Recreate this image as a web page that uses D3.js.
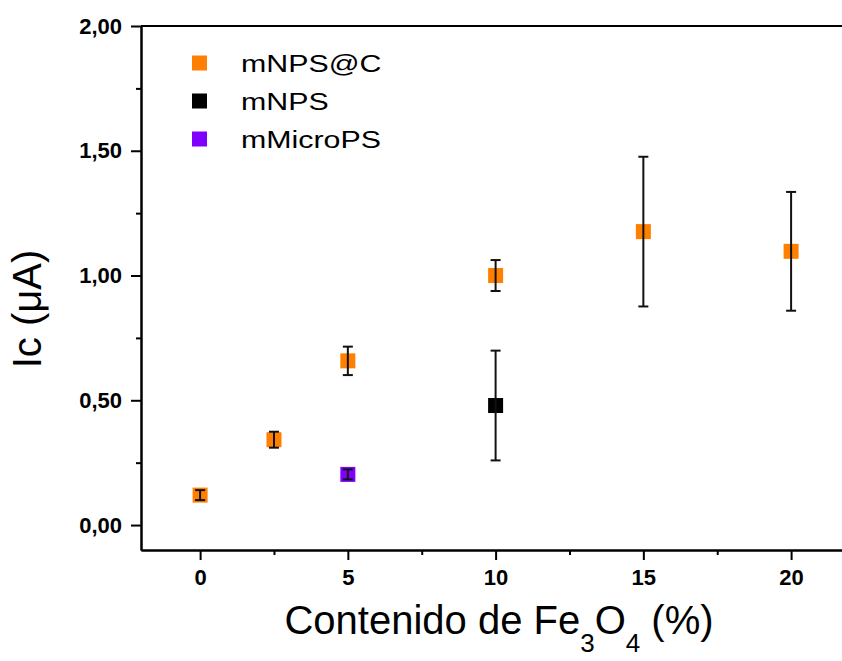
<!DOCTYPE html>
<html>
<head>
<meta charset="utf-8">
<script src="https://cdn.jsdelivr.net/npm/d3@7"></script>
<style>
  html, body { margin: 0; padding: 0; background: #fff; }
  svg { display: block; font-family: "Liberation Sans", Arial, sans-serif; }
</style>
</head>
<body>
<svg id="chart" width="842" height="661"></svg>
<script>
// ---- data ----
const seriesNames = ["mNPS@C", "mNPS", "mMicroPS"];
const seriesColors = ["#FF8000", "#000000", "#8000FF"];

const mnpsC_x = [0, 2.5, 5, 10, 15, 20];
const mnpsC_y = [0.12, 0.342, 0.658, 1.0, 1.176, 1.097];
const mnpsC_err = [0.02, 0.032, 0.057, 0.062, 0.30, 0.238];

const mnps_x = [10];
const mnps_y = [0.479];
const mnps_err = [0.22];

const micro_x = [5];
const micro_y = [0.203];
const micro_err = [0.02];

const xTicks = [0, 5, 10, 15, 20];
const xMinorTicks = [2.5, 7.5, 12.5, 17.5];
const yTicks = [0, 0.5, 1.0, 1.5, 2.0];
const yMinorTicks = [0.25, 0.75, 1.25, 1.75];
const yTickLabels = ["0,00", "0,50", "1,00", "1,50", "2,00"];

// ---- layout ----
const svg = d3.select("#chart");
const x = d3.scaleLinear().domain([-2, 22]).range([141, 850.2]);
const y = d3.scaleLinear().domain([-0.1, 2.0]).range([550, 26]);

const series = [
  { name: seriesNames[0], color: seriesColors[0], xs: mnpsC_x, ys: mnpsC_y, es: mnpsC_err },
  { name: seriesNames[1], color: seriesColors[1], xs: mnps_x, ys: mnps_y, es: mnps_err },
  { name: seriesNames[2], color: seriesColors[2], xs: micro_x, ys: micro_y, es: micro_err }
];

// top frame line
svg.append("line")
  .attr("x1", x(-2)).attr("x2", x(22))
  .attr("y1", y(2)).attr("y2", y(2))
  .attr("stroke", "#000").attr("stroke-width", 2);

// axes
const xAxis = svg.append("g")
  .attr("transform", `translate(0,${y(-0.1)})`)
  .call(d3.axisBottom(x).tickValues(xTicks).tickSize(10).tickSizeOuter(0).tickPadding(9).tickFormat(d3.format("d")));
const xMinor = svg.append("g")
  .attr("transform", `translate(0,${y(-0.1)})`)
  .call(d3.axisBottom(x).tickValues(xMinorTicks).tickSize(5).tickSizeOuter(0).tickFormat(""));

const yAxis = svg.append("g")
  .attr("transform", `translate(${x(-2)},0)`)
  .call(d3.axisLeft(y).tickValues(yTicks).tickSize(10).tickSizeOuter(0).tickPadding(9)
    .tickFormat((d, i) => yTickLabels[i]));
const yMinor = svg.append("g")
  .attr("transform", `translate(${x(-2)},0)`)
  .call(d3.axisLeft(y).tickValues(yMinorTicks).tickSize(5).tickSizeOuter(0).tickFormat(""));

[xAxis, xMinor, yAxis, yMinor].forEach(g => {
  g.selectAll("path.domain").attr("stroke", "#000").attr("stroke-width", 2);
  g.selectAll(".tick line").attr("stroke", "#000").attr("stroke-width", 2);
  g.selectAll(".tick text")
    .attr("fill", "#000")
    .style("font-family", "'Liberation Sans', Arial, sans-serif")
    .style("font-size", "22px")
    .style("font-weight", "bold");
});

// error bars and markers
const ms = 15, cap = 5;
series.forEach(s => {
  const pts = s.xs.map((xv, i) => ({ x: xv, y: s.ys[i], e: s.es[i] }));
  const g = svg.append("g");
  g.selectAll("rect").data(pts).join("rect")
    .attr("x", d => x(d.x) - ms / 2)
    .attr("y", d => y(d.y) - ms / 2)
    .attr("width", ms).attr("height", ms)
    .attr("fill", s.color);
  const eb = svg.append("g").attr("stroke", "#111").attr("stroke-width", 2);
  pts.forEach(d => {
    eb.append("line").attr("x1", x(d.x)).attr("x2", x(d.x))
      .attr("y1", y(d.y + d.e)).attr("y2", y(d.y - d.e));
    eb.append("line").attr("x1", x(d.x) - cap).attr("x2", x(d.x) + cap)
      .attr("y1", y(d.y + d.e)).attr("y2", y(d.y + d.e));
    eb.append("line").attr("x1", x(d.x) - cap).attr("x2", x(d.x) + cap)
      .attr("y1", y(d.y - d.e)).attr("y2", y(d.y - d.e));
  });
});

// legend
series.forEach((s, i) => {
  const cy = 63 + i * 38;
  svg.append("rect")
    .attr("x", 199.5 - ms / 2).attr("y", cy - ms / 2)
    .attr("width", ms).attr("height", ms)
    .attr("fill", s.color);
  svg.append("text")
    .attr("transform", `translate(241,${cy + 9}) scale(1.265,1)`)
    .style("font-size", "24px")
    .attr("fill", "#000")
    .text(s.name);
});

// axis titles
const xt = svg.append("text")
  .attr("x", 499).attr("y", 634)
  .attr("text-anchor", "middle")
  .style("font-size", "40px")
  .attr("fill", "#000");
xt.append("tspan").text("Contenido de Fe");
xt.append("tspan").attr("dy", 18).style("font-size", "26px").text("3");
xt.append("tspan").attr("dy", -18).text("O");
xt.append("tspan").attr("dy", 18).style("font-size", "26px").text("4");
xt.append("tspan").attr("dy", -18).text(" (%)");

svg.append("text")
  .attr("transform", "translate(41,309) rotate(-90)")
  .attr("text-anchor", "middle")
  .style("font-size", "40px")
  .attr("fill", "#000")
  .text("Ic (μA)");
</script>
</body>
</html>
